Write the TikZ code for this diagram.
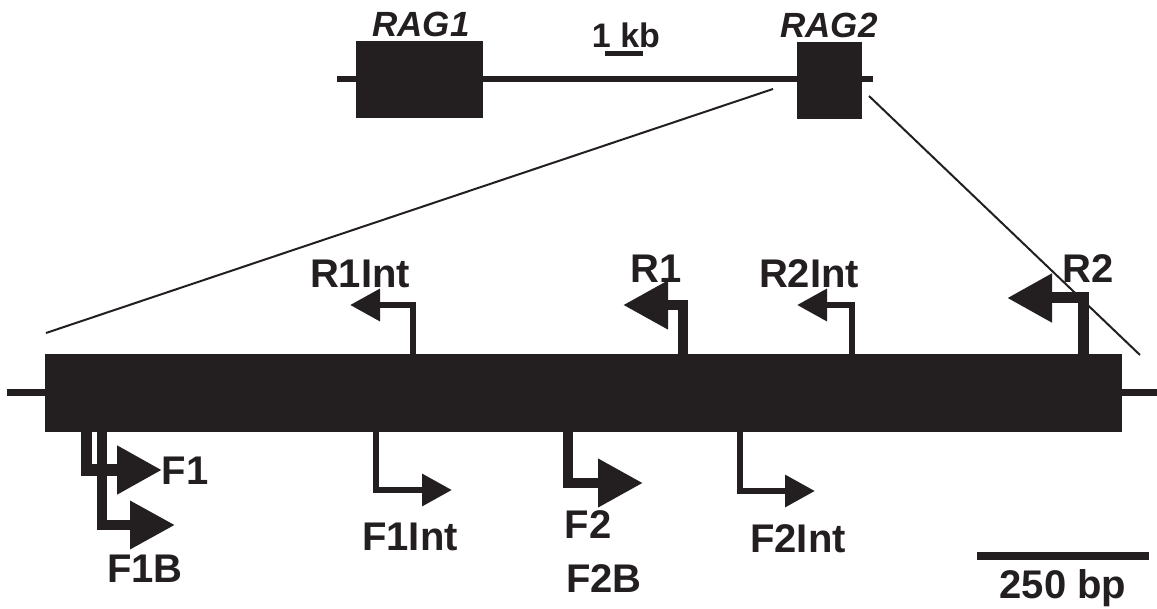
\documentclass[tikz,border=0pt]{standalone}
\usepackage{fontspec}
\setmainfont{Liberation Sans}
\usetikzlibrary{arrows.meta}
\definecolor{ink}{HTML}{231F20}
\begin{document}
\begin{tikzpicture}[x=1pt,y=-1pt,
  exon/.style={fill=ink, draw=none, inner sep=0pt, outer sep=0pt, rectangle},
  lab/.style={font=\fontsize{40}{40}\selectfont\bfseries, text=ink, inner sep=0pt, anchor=base},
  genelab/.style={font=\fontsize{35}{35}\selectfont\bfseries\itshape, text=ink, inner sep=0pt, anchor=base},
  kblab/.style={font=\fontsize{34}{34}\selectfont\bfseries, text=ink, inner sep=0pt, anchor=base},
  bigprimer/.style={draw=ink, line width=10.5pt, line join=miter, -{Triangle[length=45pt,width=46pt]}},
  smallprimer/.style={draw=ink, line width=6.5pt, line join=miter, -{Triangle[length=30pt,width=31pt]}},
  zoomline/.style={draw=ink, line width=2pt},
  dnaline/.style={draw=ink, line width=6pt},
  scalebar/.style={draw=ink, line width=5pt},
  ]
\useasboundingbox (0,0) rectangle (1157,609);

% ---------- genomic locus ----------
\coordinate (gL) at (337,79);
\coordinate (gR) at (873,79);
\draw[dnaline] (gL) -- (gR);
\node[exon, minimum width=127pt, minimum height=77pt] (rag1) at (419.5,79.5) {};
\node[exon, minimum width=65pt, minimum height=77pt] (rag2) at (829.5,80.5) {};
\node[genelab] (rag1lab) at (421,37) {RAG1};
\node[genelab] (rag2lab) at (829,38) {RAG2};
\node[kblab] (kb) at (626,48) {1 kb};
\coordinate (kbA) at (605,54);
\coordinate (kbB) at (643,54);
\draw[scalebar] (kbA) -- (kbB);

% ---------- zoom lines ----------
\coordinate (z1a) at (773,89);
\coordinate (z1b) at (46,333);
\coordinate (z2a) at (869,96);
\coordinate (z2b) at (1140,355);
\draw[zoomline] (z1a) -- (z1b);
\draw[zoomline] (z2a) -- (z2b);

% ---------- RAG2 expanded ----------
\coordinate (lL) at (7,393);
\coordinate (lR) at (1157,393);
\draw[draw=ink, line width=7pt] (lL) -- (lR);
\node[exon, minimum width=1077pt, minimum height=78pt] (exon) at (583.5,393) {};

% forward primers
\coordinate (f1s) at (86,426);   \coordinate (f1t) at (162,470);
\coordinate (f1bs) at (102,426); \coordinate (f1bt) at (175,525);
\coordinate (f1is) at (376,426); \coordinate (f1it) at (452,490);
\coordinate (f2s) at (568,426);  \coordinate (f2t) at (643,483);
\coordinate (f2is) at (740,426); \coordinate (f2it) at (815,491);
\draw[bigprimer, line width=10pt] (f1bs) |- (f1bt);
\draw[bigprimer, line width=11pt] (f1s) |- (f1t);
\draw[smallprimer] (f1is) |- (f1it);
\draw[bigprimer] (f2s) |- (f2t);
\draw[smallprimer] (f2is) |- (f2it);

% reverse primers
\coordinate (r1is) at (413,360); \coordinate (r1it) at (350,305);
\coordinate (r1s) at (683,360);  \coordinate (r1t) at (623,305);
\coordinate (r2is) at (852,360); \coordinate (r2it) at (797,305);
\coordinate (r2s) at (1083,360); \coordinate (r2t) at (1007,298);
\draw[smallprimer] (r1is) |- (r1it);
\draw[bigprimer] (r1s) |- (r1t);
\draw[smallprimer] (r2is) |- (r2it);
\draw[bigprimer, line width=11pt] (r2s) |- (r2t);

% labels
\node[lab] (lF1) at (185,485) {F1};
\node[lab] (lF1B) at (145,582) {F1B};
\node[lab] (lF1I) at (410,550) {F1Int};
\node[lab] (lF2) at (588,538) {F2};
\node[lab] (lF2B) at (604,592) {F2B};
\node[lab] (lF2I) at (798,552) {F2Int};
\node[lab] (lR1I) at (360,288) {R1Int};
\node[lab] (lR1) at (656,283) {R1};
\node[lab] (lR2I) at (809,288) {R2Int};
\node[lab] (lR2) at (1088,283) {R2};

% 250 bp scale
\coordinate (sbA) at (977,556);
\coordinate (sbB) at (1149,556);
\draw[draw=ink, line width=8pt] (sbA) -- (sbB);
\node[lab] (bp) at (1063,598) {250 bp};
\end{tikzpicture}
\end{document}
